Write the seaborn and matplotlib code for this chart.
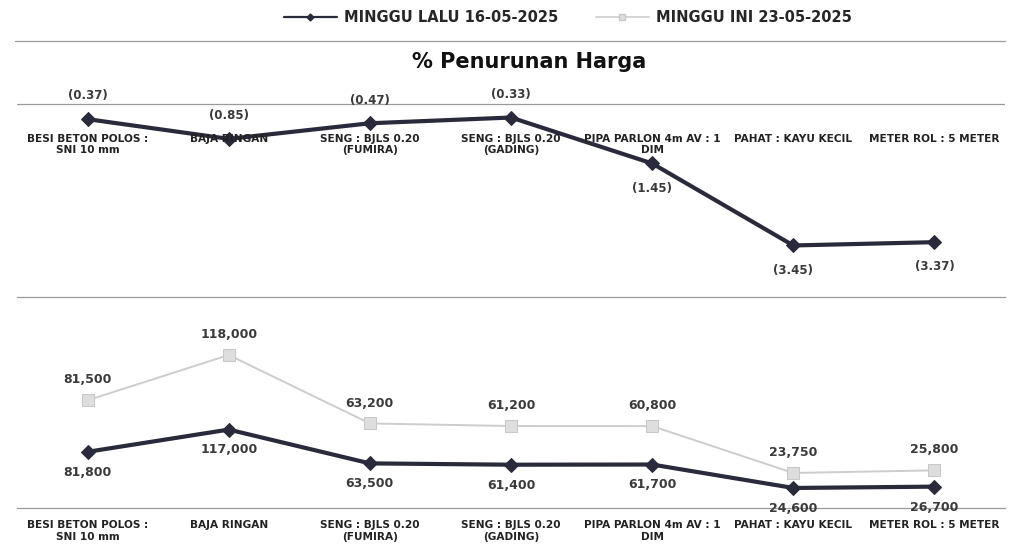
import numpy as np
import pandas as pd
import matplotlib.pyplot as plt
from matplotlib.lines import Line2D
import seaborn as sns

# data
items = ["BESI BETON POLOS :\nSNI 10 mm", "BAJA RINGAN", "SENG : BJLS 0.20\n(FUMIRA)",
         "SENG : BJLS 0.20\n(GADING)", "PIPA PARLON 4m AV : 1\nDIM", "PAHAT : KAYU KECIL",
         "METER ROL : 5 METER"]
pct_change = [-0.37, -0.85, -0.47, -0.33, -1.45, -3.45, -3.37]
price_last_week = [81800, 117000, 63500, 61400, 61700, 24600, 26700]
price_this_week = [81500, 118000, 63200, 61200, 60800, 23750, 25800]
label_last = "MINGGU LALU 16-05-2025"
label_this = "MINGGU INI 23-05-2025"
title = "% Penurunan Harga"

DARK = "#2a2a3d"
LIGHT = "#cdcdcd"
TXT = "#3a3a3a"
FONT = ["DejaVu Sans"]

sns.set_theme(style="white")
plt.rcParams["font.family"] = FONT

W, H = 1014, 557
fig = plt.figure(figsize=(W / 100, H / 100), dpi=100)


def frac(x0, y0, x1, y1):
    return [x0 / W, 1 - y1 / H, (x1 - x0) / W, (y1 - y0) / H]


df = pd.DataFrame({
    "x": np.arange(len(items)),
    "pct": pct_change,
    "last": price_last_week,
    "this": price_this_week,
})
# stacked line chart: the second series sits on top of the first
df["stack"] = df["last"] + df["this"]

# ---- top panel: % change
ax1 = fig.add_axes(frac(17, 75, 1005, 297))
sns.lineplot(data=df, x="x", y="pct", ax=ax1, color=DARK, lw=3, marker="D",
             markersize=7, markeredgecolor=DARK)
ax1.axhline(0, color="#9a9a9a", lw=0.9)
ax1.set_xlim(-0.5, len(items) - 0.5)
ax1.set_ylim(-4.707, 0.707)
ax1.set_xticks([])
ax1.set_yticks([])
ax1.set_xlabel("")
ax1.set_ylabel("")
for s in ["top", "left", "right"]:
    ax1.spines[s].set_visible(False)
ax1.spines["bottom"].set_color("#9a9a9a")
ax1.spines["bottom"].set_linewidth(0.9)
for i, (x, v) in enumerate(zip(df["x"], df["pct"])):
    above = i < 4
    ax1.annotate(f"({abs(v):.2f})", (x, v), xytext=(0, 12 if above else -13),
                 textcoords="offset points", ha="center",
                 va="bottom" if above else "top", fontsize=8.5,
                 fontweight="bold", color=TXT)
    ax1.text(x, -0.72, items[i], ha="center", va="top", fontsize=7.6,
             fontweight="bold", color="#222222", linespacing=1.2)

# ---- bottom panel: prices
ax2 = fig.add_axes(frac(17, 320, 1005, 508))
sns.lineplot(data=df, x="x", y="stack", ax=ax2, color=LIGHT, lw=1.4, marker="s",
             markersize=9, markerfacecolor="#dedede", markeredgecolor="#c8c8c8")
sns.lineplot(data=df, x="x", y="last", ax=ax2, color=DARK, lw=3, marker="D",
             markersize=7, markeredgecolor=DARK)
ax2.set_xlim(-0.5, len(items) - 0.5)
ax2.set_ylim(-7100, 290400)
ax2.set_xticks(df["x"])
ax2.set_xticklabels(items, fontsize=7.6, fontweight="bold", color="#222222",
                    linespacing=1.2)
ax2.tick_params(axis="x", length=0, pad=9)
ax2.set_yticks([])
ax2.set_xlabel("")
ax2.set_ylabel("")
for s in ["top", "left", "right"]:
    ax2.spines[s].set_visible(False)
ax2.spines["bottom"].set_color("#9a9a9a")
ax2.spines["bottom"].set_linewidth(0.9)
for x, top, v in zip(df["x"], df["stack"], df["this"]):
    ax2.annotate(f"{v:,}", (x, top), xytext=(0, 10), textcoords="offset points",
                 ha="center", va="bottom", fontsize=9, fontweight="bold",
                 color=TXT)
for x, v in zip(df["x"], df["last"]):
    ax2.annotate(f"{v:,}", (x, v), xytext=(0, -10), textcoords="offset points",
                 ha="center", va="top", fontsize=9, fontweight="bold",
                 color=TXT)

# ---- frame: legend, rule, title
fig.add_artist(Line2D([15 / W, 1005 / W], [1 - 41 / H, 1 - 41 / H],
                      color="#9a9a9a", lw=0.9))
fig.text(529 / W, 1 - 62 / H, title, ha="center", va="center", fontsize=15,
         fontweight="bold", color="#111111")
handles = [
    Line2D([], [], color=DARK, lw=1.6, marker="D", markersize=3.5),
    Line2D([], [], color=LIGHT, lw=1.2, marker="s", markersize=4,
           markerfacecolor="#dedede", markeredgecolor="#c8c8c8"),
]
fig.legend(handles, [label_last, label_this], loc="center", ncol=2,
           bbox_to_anchor=(568 / W, 1 - 18 / H), frameon=False,
           prop={"size": 10.5, "weight": "bold", "family": FONT},
           handlelength=3.6, columnspacing=2.6, handletextpad=0.5)

fig.savefig("out.png", dpi=100)
